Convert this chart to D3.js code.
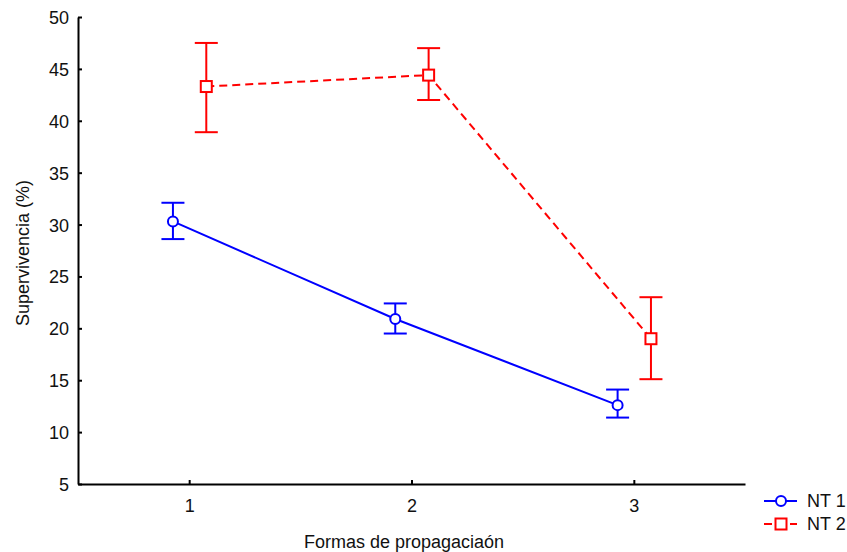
<!DOCTYPE html>
<html>
<head>
<meta charset="utf-8">
<script src="https://cdn.jsdelivr.net/npm/d3@7"></script>
<style>
  body { margin: 0; background: #fff; }
  svg { display: block; font-family: "Liberation Sans", Arial, sans-serif; }
</style>
</head>
<body>
<svg id="chart" width="847" height="552"></svg>
<script>
// Data
const categories = [1, 2, 3];
const nt1Mean = [30.3, 20.9, 12.6];
const nt1Upper = [32.1, 22.4, 14.1];
const nt1Lower = [28.6, 19.5, 11.4];
const nt2Mean = [43.3, 44.4, 19.0];
const nt2Upper = [47.5, 47.0, 23.0];
const nt2Lower = [38.9, 42.0, 15.1];
const yTicks = [5, 10, 15, 20, 25, 30, 35, 40, 45, 50];

const svg = d3.select("#chart");

// Plot area
const plotLeft = 78, plotRight = 745, plotTop = 17, plotBottom = 484;

const x = d3.scaleLinear().domain([0.5, 3.5]).range([plotLeft, plotRight]);
const y = d3.scaleLinear().domain([5, 50]).range([plotBottom, plotTop]);

// Axes
const yAxis = d3.axisLeft(y).tickValues(yTicks).tickSizeInner(-4).tickSizeOuter(0).tickPadding(9);
const xAxis = d3.axisBottom(x).tickValues(categories).tickFormat(d3.format("d")).tickSizeInner(-4).tickSizeOuter(0).tickPadding(15);

const gy = svg.append("g").attr("transform", `translate(${plotLeft},0)`).call(yAxis);
const gx = svg.append("g").attr("transform", `translate(0,${plotBottom})`).call(xAxis);

[gx, gy].forEach(g => {
    g.select(".domain").attr("stroke", "#000").attr("stroke-width", 2);
    g.selectAll(".tick line").attr("stroke", "#000").attr("stroke-width", 2);
    g.selectAll(".tick text").attr("fill", "#111").style("font-size", "18px")
        .style("font-family", "Liberation Sans, Arial, sans-serif");
});
gy.selectAll(".tick text").attr("dy", "0.36em");

// Axis titles
svg.append("text")
    .attr("x", 404)
    .attr("y", 548)
    .attr("text-anchor", "middle")
    .style("font-size", "18px")
    .attr("fill", "#111")
    .text("Formas de propagaciaón");

svg.append("text")
    .attr("transform", "translate(29,253) rotate(-90)")
    .attr("text-anchor", "middle")
    .style("font-size", "18px")
    .attr("fill", "#111")
    .text("Supervivencia (%)");

// Series
const series = [
    { name: "NT 1", color: "#0000ff", offset: -0.073, mean: nt1Mean, upper: nt1Upper, lower: nt1Lower, dash: null, marker: "circle" },
    { name: "NT 2", color: "#ff0000", offset: 0.077, mean: nt2Mean, upper: nt2Upper, lower: nt2Lower, dash: "8,5", marker: "square" }
];

const capHalf = 11.5;

series.forEach(s => {
    const pts = categories.map((c, i) => ({ x: c + s.offset, m: s.mean[i], hi: s.upper[i], lo: s.lower[i] }));
    const g = svg.append("g");

    // connecting line
    g.append("path")
        .datum(pts)
        .attr("fill", "none")
        .attr("stroke", s.color)
        .attr("stroke-width", 2)
        .attr("stroke-dasharray", s.dash)
        .attr("d", d3.line().x(d => x(d.x)).y(d => y(d.m)));

    // error bars
    pts.forEach(d => {
        const cx = x(d.x);
        g.append("line").attr("x1", cx).attr("x2", cx).attr("y1", y(d.hi)).attr("y2", y(d.lo))
            .attr("stroke", s.color).attr("stroke-width", 2);
        [d.hi, d.lo].forEach(v => {
            g.append("line").attr("x1", cx - capHalf).attr("x2", cx + capHalf).attr("y1", y(v)).attr("y2", y(v))
                .attr("stroke", s.color).attr("stroke-width", 2);
        });
    });

    // markers
    pts.forEach(d => {
        if (s.marker === "circle") {
            g.append("circle").attr("cx", x(d.x)).attr("cy", y(d.m)).attr("r", 5)
                .attr("fill", "#fff").attr("stroke", s.color).attr("stroke-width", 2);
        } else {
            g.append("rect").attr("x", x(d.x) - 5.5).attr("y", y(d.m) - 5.5).attr("width", 11).attr("height", 11)
                .attr("fill", "#fff").attr("stroke", s.color).attr("stroke-width", 2);
        }
    });
});

// Legend
const legend = svg.append("g");
series.forEach((s, i) => {
    const ly = 501 + i * 23;
    legend.append("line").attr("x1", 764).attr("x2", 797).attr("y1", ly).attr("y2", ly)
        .attr("stroke", s.color).attr("stroke-width", 2)
        .attr("stroke-dasharray", s.dash ? "8,5" : null);
    if (s.marker === "circle") {
        legend.append("circle").attr("cx", 781).attr("cy", ly).attr("r", 5)
            .attr("fill", "#fff").attr("stroke", s.color).attr("stroke-width", 2);
    } else {
        legend.append("rect").attr("x", 775.5).attr("y", ly - 5.5).attr("width", 11).attr("height", 11)
            .attr("fill", "#fff").attr("stroke", s.color).attr("stroke-width", 2);
    }
    legend.append("text").attr("x", 807).attr("y", ly).attr("dy", "0.36em")
        .style("font-size", "18px").attr("fill", "#111").text(s.name);
});
</script>
</body>
</html>
